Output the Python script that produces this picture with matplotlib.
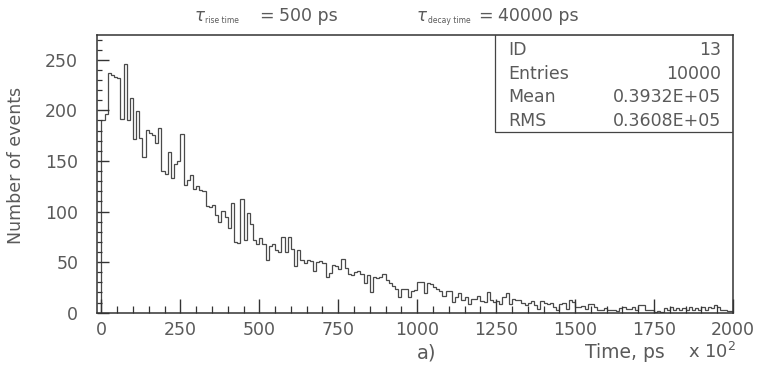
import numpy as np
import matplotlib
matplotlib.use("Agg")
import matplotlib.pyplot as plt
from matplotlib.patches import Rectangle
from matplotlib.ticker import MultipleLocator

# time axis in units of 10^2 ps, 200 bins of width 10
bin_edges = np.arange(0, 2001, 10)
counts = [
    190, 196, 237, 235, 233, 232, 191, 246, 190, 212,
    172, 199, 173, 154, 181, 178, 176, 168, 183, 140,
    137, 159, 133, 147, 150, 177, 126, 131, 136, 122,
    125, 121, 120, 105, 104, 106, 97, 90, 101, 95,
    84, 108, 70, 69, 112, 72, 99, 88, 72, 68,
    74, 68, 52, 66, 68, 62, 60, 75, 60, 75,
    63, 46, 62, 52, 49, 52, 51, 41, 50, 51,
    49, 35, 39, 47, 46, 43, 53, 44, 38, 37,
    40, 41, 38, 29, 37, 20, 35, 34, 35, 38,
    32, 29, 26, 23, 16, 23, 23, 16, 21, 22,
    30, 30, 19, 29, 28, 25, 23, 21, 17, 21,
    21, 11, 16, 19, 13, 16, 9, 14, 14, 17,
    12, 11, 20, 13, 11, 12, 9, 16, 19, 9,
    14, 13, 13, 10, 8, 10, 12, 8, 4, 12,
    10, 9, 10, 6, 3, 9, 10, 4, 13, 11,
    6, 6, 7, 4, 9, 9, 6, 3, 3, 5,
    3, 3, 3, 2, 5, 6, 4, 4, 6, 3,
    8, 8, 3, 3, 3, 1, 2, 1, 5, 3,
    6, 3, 5, 3, 5, 3, 6, 3, 5, 3,
    6, 3, 6, 5, 8, 6, 3, 3, 2, 2,
]

stat_names = ["ID", "Entries", "Mean", "RMS"]
stat_values = ["13", "10000", "0.3932E+05", "0.3608E+05"]

x_ticks = [0, 250, 500, 750, 1000, 1250, 1500, 1750, 2000]
y_ticks = [0, 50, 100, 150, 200, 250]

W, H = 769, 371
txt = "#5a5a5a"
dark = "#333333"

fig = plt.figure(figsize=(W / 100, H / 100), dpi=100)
ax = fig.add_axes([97 / W, 1 - 312.7 / H, (733 - 97) / W, (312.7 - 34.5) / H])


def ftext(x, y, s, **kw):
    # place text by pixel position (y measured from the top)
    kw.setdefault("color", txt)
    return fig.text(x / W, 1 - y / H, s, **kw)


ax.stairs(counts, bin_edges, color="#4a4a4a", lw=0.9)

ax.set_xlim(-14, 2000)
ax.set_ylim(0, 275)
ax.set_xticks(x_ticks)
ax.set_yticks(y_ticks)
ax.xaxis.set_minor_locator(MultipleLocator(50))
ax.yaxis.set_minor_locator(MultipleLocator(10))

ax.tick_params(axis="both", which="both", direction="in", color=dark,
               labelcolor=txt, labelsize=12.5, top=False, right=False)
ax.tick_params(axis="x", which="major", length=10, width=1, pad=6)
ax.tick_params(axis="x", which="minor", length=5, width=0.9)
ax.tick_params(axis="y", which="major", length=8.5, width=1, pad=13.5)
ax.tick_params(axis="y", which="minor", length=3.8, width=0.9)
for sp in ax.spines.values():
    sp.set_color(dark)
    sp.set_linewidth(1.1)

# statistics box in the upper right corner
bx0 = (495 - 97) / (733 - 97)
by0 = (312.7 - 131.7) / (312.7 - 34.5)
ax.add_patch(Rectangle((bx0, by0), 1 - bx0, 1 - by0, transform=ax.transAxes,
                       fill=False, ec="#444444", lw=0.9, zorder=5))
for i, (name, val) in enumerate(zip(stat_names, stat_values)):
    yy = 50 + i * 23.7
    ftext(508, yy, name, ha="left", va="center", fontsize=12.5)
    ftext(721, yy, val, ha="right", va="center", fontsize=12.5)

# header with the two time constants
ftext(194, 21, r"$\tau$", ha="left", va="baseline", fontsize=12)
ftext(205, 23, "rise time", ha="left", va="baseline", fontsize=5.5)
ftext(259, 21, "=", ha="left", va="baseline", fontsize=12.5)
ftext(279, 21, "500 ps", ha="left", va="baseline", fontsize=12.5)
ftext(416, 21, r"$\tau$", ha="left", va="baseline", fontsize=12)
ftext(428, 23, "decay time", ha="left", va="baseline", fontsize=5.5)
ftext(478, 21, "=", ha="left", va="baseline", fontsize=12.5)
ftext(498, 21, "40000 ps", ha="left", va="baseline", fontsize=12.5)

# axis titles
ftext(16, 165, "Number of events", rotation=90, ha="center", va="center",
      fontsize=12.5)
ftext(585, 358, "Time, ps", ha="left", va="baseline", fontsize=13.5)
ftext(688, 358, r"x 10$^{2}$", ha="left", va="baseline", fontsize=13)
ftext(427, 353, "a)", ha="center", va="center", fontsize=14)

fig.savefig("out.png", dpi=100)
